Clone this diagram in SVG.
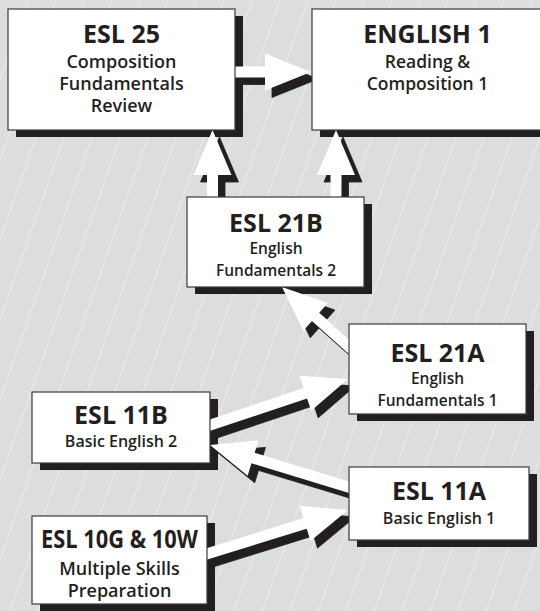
<svg xmlns="http://www.w3.org/2000/svg" width="540" height="611" viewBox="0 0 540 611">
<defs>
<pattern id="hatch" patternUnits="userSpaceOnUse" width="28" height="80">
<line x1="0" y1="80" x2="28" y2="0" stroke="#ffffff" stroke-width="0.8" stroke-opacity="0.55"/>
</pattern>
</defs>
<style>
.bg{fill:#dcdddf}
.sh{fill:#231f20}
.box{fill:#ffffff;stroke:#3a3a3a;stroke-width:1.2}
.ash{fill:#231f20;stroke:#231f20;stroke-width:0.8}
.aw{fill:#ffffff}
text{font-family:"Open Sans","Liberation Sans",sans-serif;fill:#231f20;text-anchor:middle}
.t{font-size:25px;font-weight:700}
.s{font-size:18px;font-weight:600}
.s2{font-size:17.5px;font-weight:600}
.s3{font-size:15.5px;font-weight:600}
.s4{font-size:16px;font-weight:600}
</style>
<rect class="bg" x="0" y="0" width="540" height="611"/>
<rect x="0" y="0" width="540" height="611" fill="url(#hatch)"/>

<g id="shadows">
<rect class="sh" x="16" y="16" width="227" height="121"/>
<rect class="sh" x="320" y="16" width="232" height="121"/>
<rect class="sh" x="195" y="204" width="177" height="90"/>
<rect class="sh" x="357" y="331" width="177" height="90"/>
<rect class="sh" x="40" y="399" width="178" height="71"/>
<rect class="sh" x="357" y="474" width="180" height="73"/>
<rect class="sh" x="40" y="523" width="175" height="88"/>
</g>

<g id="connectors">
<g id="c-esl25-english1">
<polygon class="ash" transform="translate(318,79)" points="-85,-5.5 -46,-5.5 -46,-18.5 0,0 -46,18.5 -46,5.5 -85,5.5"/>
<polygon class="aw" transform="translate(311,72)" points="-85,-5.5 -46,-5.5 -46,-18.5 0,0 -46,18.5 -46,5.5 -85,5.5"/>
</g>
<g id="c-esl21b-esl25">
<polygon class="ash" transform="translate(219.5,137) rotate(-90)" points="-75,-5.5 -45,-5.5 -45,-19 0,0 -45,19 -45,5.5 -75,5.5"/>
<polygon class="aw" transform="translate(212.5,130) rotate(-90)" points="-75,-5.5 -45,-5.5 -45,-19 0,0 -45,19 -45,5.5 -75,5.5"/>
</g>
<g id="c-esl21b-english1">
<polygon class="ash" transform="translate(343,137) rotate(-90)" points="-75,-5.5 -45,-5.5 -45,-19 0,0 -45,19 -45,5.5 -75,5.5"/>
<polygon class="aw" transform="translate(336,130) rotate(-90)" points="-75,-5.5 -45,-5.5 -45,-19 0,0 -45,19 -45,5.5 -75,5.5"/>
</g>
<g id="c-esl21a-esl21b">
<polygon class="ash" transform="translate(289,294) rotate(-138.3)" points="-105,-5.5 -45,-5.5 -45,-18.5 0,0 -45,18.5 -45,5.5 -105,5.5"/>
<polygon class="aw" transform="translate(282,287) rotate(-138.3)" points="-105,-5.5 -45,-5.5 -45,-18.5 0,0 -45,18.5 -45,5.5 -105,5.5"/>
</g>
<g id="c-esl11b-esl21a">
<polygon class="ash" transform="translate(355,386) rotate(-18.5)" points="-158,-5.5 -45,-5.5 -45,-18.5 0,0 -45,18.5 -45,5.5 -158,5.5"/>
<polygon class="aw" transform="translate(348,379) rotate(-18.5)" points="-158,-5.5 -45,-5.5 -45,-18.5 0,0 -45,18.5 -45,5.5 -158,5.5"/>
</g>
<g id="c-esl11a-esl11b">
<polygon class="ash" transform="translate(217,452) rotate(-163.1)" points="-158,-5.5 -45,-5.5 -45,-18.5 0,0 -45,18.5 -45,5.5 -158,5.5"/>
<polygon class="aw" transform="translate(210,445) rotate(-163.1)" points="-158,-5.5 -45,-5.5 -45,-18.5 0,0 -45,18.5 -45,5.5 -158,5.5"/>
</g>
<g id="c-esl10g-esl11a">
<polygon class="ash" transform="translate(355,517) rotate(-17.3)" points="-160,-5.5 -45,-5.5 -45,-18.5 0,0 -45,18.5 -45,5.5 -160,5.5"/>
<polygon class="aw" transform="translate(348,510) rotate(-17.3)" points="-160,-5.5 -45,-5.5 -45,-18.5 0,0 -45,18.5 -45,5.5 -160,5.5"/>
</g>
</g>

<g id="esl25">
<rect class="box" x="8" y="9" width="227" height="121"/>
<text class="t" x="121.5" y="43">ESL 25</text>
<text class="s" x="121.5" y="68">Composition</text>
<text class="s" x="121.5" y="90">Fundamentals</text>
<text class="s" x="121.5" y="112">Review</text>
</g>
<g id="english1">
<rect class="box" x="312" y="9" width="232" height="121"/>
<text class="t" x="427.5" y="43">ENGLISH 1</text>
<text class="s2" x="427.5" y="68">Reading &amp;</text>
<text class="s2" x="427.5" y="90">Composition 1</text>
</g>
<g id="esl21b">
<rect class="box" x="187" y="197" width="177" height="90"/>
<text class="t" x="276" y="232">ESL 21B</text>
<text class="s3" x="276" y="254">English</text>
<text class="s3" x="276" y="276">Fundamentals 2</text>
</g>
<g id="esl21a">
<rect class="box" x="349" y="324" width="177" height="90"/>
<text class="t" x="437.5" y="362">ESL 21A</text>
<text class="s3" x="437.5" y="384">English</text>
<text class="s3" x="437.5" y="406">Fundamentals 1</text>
</g>
<g id="esl11b">
<rect class="box" x="32" y="392" width="178" height="71"/>
<text class="t" x="121" y="424">ESL 11B</text>
<text class="s4" x="121" y="447">Basic English 2</text>
</g>
<g id="esl11a">
<rect class="box" x="349" y="467" width="180" height="73"/>
<text class="t" x="439" y="500">ESL 11A</text>
<text class="s4" x="439" y="524">Basic English 1</text>
</g>
<g id="esl10g">
<rect class="box" x="32" y="516" width="175" height="88"/>
<text class="t" x="119.5" y="548" textLength="157" lengthAdjust="spacingAndGlyphs">ESL 10G &amp; 10W</text>
<text class="s" x="119.5" y="575">Multiple Skills</text>
<text class="s" x="119.5" y="597">Preparation</text>
</g>
</svg>
